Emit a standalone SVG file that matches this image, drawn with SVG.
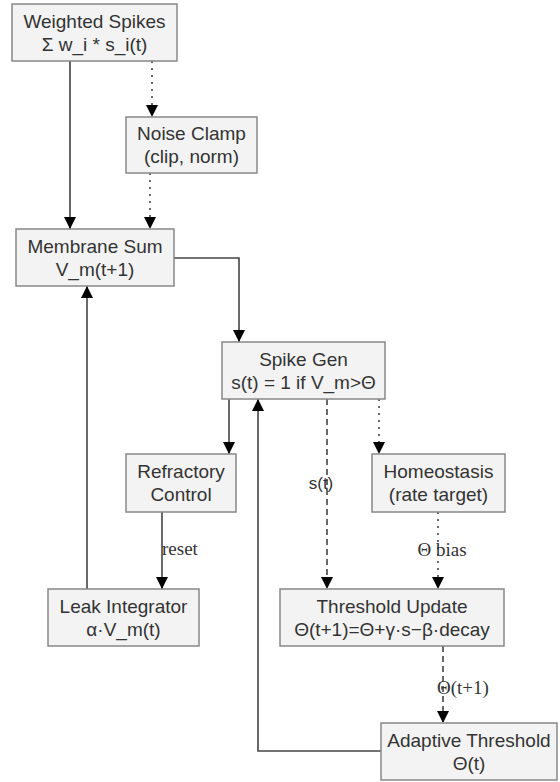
<svg xmlns="http://www.w3.org/2000/svg" width="560" height="782" viewBox="0 0 560 782">
<style>
.box{fill:#f3f3f3;stroke:#888;stroke-width:1.5}
.t{font-family:"Liberation Sans",Arial,sans-serif;font-size:19px;fill:#333;text-anchor:middle}
.lbl{font-family:"Liberation Serif","Times New Roman",serif;font-size:19px;fill:#333}
.sl{font-family:"Liberation Sans",Arial,sans-serif;font-size:17px;fill:#333}
.e{fill:none;stroke:#444;stroke-width:1.6}
.g{stroke:#666;stroke-width:2}
.dot{stroke-dasharray:2,5}
.dash{stroke-dasharray:6,4}
</style>
<defs>
<marker id="ah" viewBox="0 0 12 14" refX="12" refY="7" markerWidth="12" markerHeight="14" markerUnits="userSpaceOnUse" orient="auto">
<path d="M0,1 L12,7 L0,13 Z" fill="#000"/>
</marker>
</defs>
<rect width="560" height="782" fill="#fff"/>
<g id="connectors">
<path class="e g" d="M70,61 V229" marker-end="url(#ah)"/>
<path class="e dot" d="M152,61 V117" marker-end="url(#ah)"/>
<path class="e dot" d="M150,173 V229" marker-end="url(#ah)"/>
<path class="e" d="M174,258 H239 V342" marker-end="url(#ah)"/>
<path class="e" d="M229,399 V454" marker-end="url(#ah)"/>
<path class="e dot" d="M379,399 V454" marker-end="url(#ah)"/>
<path class="e dash" d="M327,399 V589" marker-end="url(#ah)"/>
<text class="sl" x="321" y="489" text-anchor="middle">s(t)</text>
<path class="e dot" d="M438,512 V589" marker-end="url(#ah)"/>
<text class="lbl" x="442" y="556" text-anchor="middle">Θ bias</text>
<path class="e" d="M162,512 V589" marker-end="url(#ah)"/>
<text class="lbl" x="162" y="555">reset</text>
<path class="e" d="M87,589 V286" marker-end="url(#ah)"/>
<path class="e dash" d="M443,646 V723" marker-end="url(#ah)"/>
<text class="lbl" x="437" y="694">Θ(t+1)</text>
<path class="e" d="M381,751 H258 V399" marker-end="url(#ah)"/>
</g>
<g id="weighted-spikes">
<rect class="box" x="12" y="4" width="165" height="57"/>
<text class="t" x="94.5" y="28">Weighted Spikes</text>
<text class="t" x="94.5" y="51">Σ w_i * s_i(t)</text>
</g>
<g id="noise-clamp">
<rect class="box" x="126" y="117" width="131" height="56"/>
<text class="t" x="191.5" y="140">Noise Clamp</text>
<text class="t" x="191.5" y="163">(clip, norm)</text>
</g>
<g id="membrane-sum">
<rect class="box" x="16" y="229" width="158" height="57"/>
<text class="t" x="95" y="253">Membrane Sum</text>
<text class="t" x="95" y="276">V_m(t+1)</text>
</g>
<g id="spike-gen">
<rect class="box" x="222" y="342" width="163" height="57"/>
<text class="t" x="303.5" y="366">Spike Gen</text>
<text class="t" x="303.5" y="389">s(t) = 1 if V_m&gt;Θ</text>
</g>
<g id="refractory-control">
<rect class="box" x="126" y="454" width="110" height="58"/>
<text class="t" x="181" y="478">Refractory</text>
<text class="t" x="181" y="501">Control</text>
</g>
<g id="homeostasis">
<rect class="box" x="372" y="454" width="133" height="58"/>
<text class="t" x="438.5" y="478">Homeostasis</text>
<text class="t" x="438.5" y="501">(rate target)</text>
</g>
<g id="leak-integrator">
<rect class="box" x="48" y="589" width="151" height="57"/>
<text class="t" x="123.5" y="613">Leak Integrator</text>
<text class="t" x="123.5" y="636">α·V_m(t)</text>
</g>
<g id="threshold-update">
<rect class="box" x="280" y="589" width="224" height="57"/>
<text class="t" x="392" y="613">Threshold Update</text>
<text class="t" x="392" y="636">Θ(t+1)=Θ+γ·s−β·decay</text>
</g>
<g id="adaptive-threshold">
<rect class="box" x="381" y="723" width="176" height="57"/>
<text class="t" x="469" y="747">Adaptive Threshold</text>
<text class="t" x="469" y="770">Θ(t)</text>
</g>
</svg>
